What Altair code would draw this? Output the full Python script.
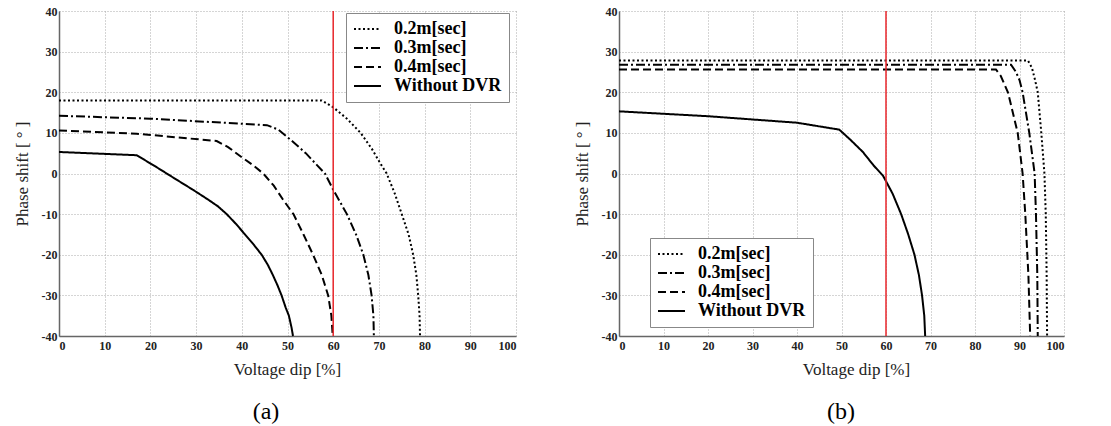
import altair as alt
import pandas as pd

series = ["0.2m[sec]", "0.3m[sec]", "0.4m[sec]", "Without DVR"]
dashes = [[2, 2.5], [9, 3, 2, 3], [8, 4], [1, 0]]

# Panel (a)
a02_x = [0, 57.5, 60, 63, 66, 68.5, 70.2, 71.7, 73.5, 75, 76.5, 77.5, 78.2, 78.6, 78.9, 79]
a02_y = [18, 18, 16.3, 13.5, 10, 6, 2.7, 0, -5, -10, -15, -20, -25, -30, -35, -40]
a03_x = [0, 20, 45.5, 48, 51, 54, 56.5, 58.2, 60, 61.5, 63, 65, 66.6, 67.7, 68.4, 68.8, 68.9]
a03_y = [14.2, 13.5, 11.9, 10.8, 8, 5, 2, 0, -4, -7, -10, -15, -20, -25, -30, -35, -40]
a04_x = [0, 17, 34.5, 37, 40, 42.5, 44.7, 47, 49, 51.3, 53.5, 55.6, 57.5, 58.9, 59.6, 59.9]
a04_y = [10.6, 9.8, 8, 6.5, 4, 2, 0, -3, -6.4, -10, -15, -20, -25, -30, -35, -40]
a00_x = [0, 17, 21, 25.7, 29.3, 32.6, 34.8, 36.7, 38.8, 40.7, 42.6, 44.35, 45.7, 46.8,
         47.8, 48.7, 49.6, 50.3, 50.9, 51.2]
a00_y = [5.3, 4.5, 1.8, -1.5, -4, -6.4, -8.1, -10, -12.5, -15, -17.5, -20, -22.5, -25,
         -27.5, -30, -33, -35, -38, -40]

# Panel (b)
b02_x = [0, 91.9, 92.8, 93.5, 94.1, 94.9, 95.6, 95.9, 96.1, 96.2]
b02_y = [27.8, 27.8, 26, 23, 20, 10, 0, -10, -25, -40]
b03_x = [0, 88.1, 89.2, 90, 90.7, 92.2, 93.4, 93.7, 94, 94.1]
b03_y = [26.8, 26.8, 25, 23, 20, 10, 0, -10, -25, -40]
b04_x = [0, 84.7, 85.8, 86.6, 87.4, 89.6, 90.7, 91.3, 92, 92.4]
b04_y = [25.6, 25.6, 24, 22, 20, 10, 0, -10, -25, -40]
b00_x = [0, 20, 40, 49.5, 52, 54.8, 57.2, 59.3, 60, 61.5, 63.4, 65, 66.4, 67.4, 68.1, 68.6, 68.8]
b00_y = [15.3, 14.1, 12.5, 10.8, 8.3, 5.3, 2, -0.5, -1.9, -5, -10, -15, -20, -25, -30, -35, -40]

x_ticks = list(range(0, 101, 10))
y_ticks = list(range(-40, 41, 10))
FONT = "Liberation Serif, Times New Roman, DejaVu Serif, serif"


def frame(pairs):
    rows = []
    for name, xs, ys in pairs:
        for i, (x, y) in enumerate(zip(xs, ys)):
            rows.append({"s": name, "x": x, "y": y, "i": i})
    return pd.DataFrame(rows)


df_a = frame([(series[0], a02_x, a02_y), (series[1], a03_x, a03_y),
              (series[2], a04_x, a04_y), (series[3], a00_x, a00_y)])
df_b = frame([(series[0], b02_x, b02_y), (series[1], b03_x, b03_y),
              (series[2], b04_x, b04_y), (series[3], b00_x, b00_y)])


def panel(df, width, legend_x, legend_y, caption, cap_x, title_x):
    xs = alt.Scale(domain=[0, 100], nice=False, zero=False)
    ys = alt.Scale(domain=[-40, 40], nice=False, zero=False)
    xaxis = alt.Axis(values=x_ticks, title="Voltage dip [%]", titleX=title_x,
                     labelExpr="'' + datum.value")
    yaxis = alt.Axis(values=y_ticks, title="Phase shift [ ° ]",
                     labelExpr="'' + datum.value")
    lines = alt.Chart(df).mark_line(color="black", strokeWidth=2).encode(
        x=alt.X("x:Q", scale=xs, axis=xaxis),
        y=alt.Y("y:Q", scale=ys, axis=yaxis),
        order="i:Q",
        strokeDash=alt.StrokeDash(
            "s:N",
            scale=alt.Scale(domain=series, range=dashes),
            sort=series,
            legend=alt.Legend(
                title=None, orient="none", legendX=legend_x, legendY=legend_y,
                symbolType="stroke", symbolSize=729, symbolStrokeWidth=2,
                symbolStrokeColor="black", clipHeight=18,
                labelFont=FONT, labelFontSize=18, labelFontWeight="bold",
                labelColor="black", labelOffset=12, rowPadding=1,
                padding=7, strokeColor="#888888", fillColor="white",
            ),
        ),
    )
    rule = alt.Chart(pd.DataFrame({"v": [60]})).mark_rule(
        color="#e8262b", strokeWidth=1.5).encode(x=alt.X("v:Q", scale=xs))
    cap = alt.Chart(pd.DataFrame({"t": [caption]})).mark_text(
        font=FONT, fontSize=24, color="black", baseline="middle", align="center"
    ).encode(text="t:N", x=alt.value(cap_x), y=alt.value(401))
    return alt.layer(lines, rule, cap).properties(width=width, height=325)


left = panel(df_a, 457, 287, 2, "(a)", 207, 228)
right = panel(df_b, 445, 31, 227, "(b)", 222, 237)

chart = alt.hconcat(left, right, spacing=56).resolve_scale(
    x="independent", y="independent", strokeDash="independent"
).resolve_legend(strokeDash="independent").properties(
    padding={"left": 13, "top": 5, "right": 0, "bottom": 0},
    background="white",
).configure_view(stroke=None).configure_axis(
    labelFont=FONT, labelFontSize=12, labelFontWeight="bold", labelColor="#222",
    titleFont=FONT, titleFontSize=17, titleFontWeight="normal", titleColor="#222",
    domainColor="#666", domainWidth=1.5, tickSize=0,
    gridColor="#aaa", gridDash=[1, 2], gridWidth=1,
).configure_axisY(labelPadding=2, titlePadding=10).configure_axisX(
    labelPadding=4, titlePadding=10)

chart.save("out.html", embed_options={"renderer": "svg", "actions": False})
